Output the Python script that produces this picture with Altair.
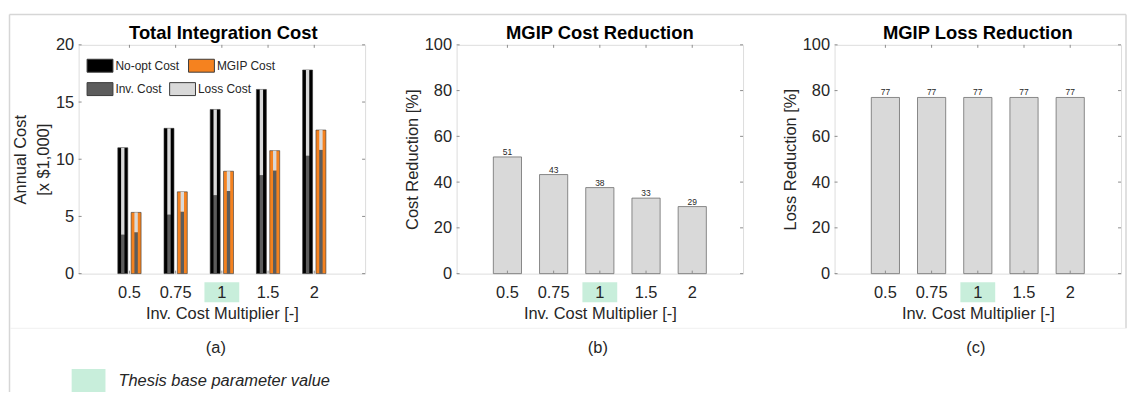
import altair as alt
import pandas as pd

# ---------------- data ----------------
multipliers = ["0.5", "0.75", "1", "1.5", "2"]
base_multiplier = "1"
series_names = ["No-opt Cost", "MGIP Cost"]
component_names = ["Inv. Cost", "Loss Cost"]
noopt_total = [11.0, 12.7, 14.35, 16.1, 17.8]
noopt_inv = [3.4, 5.15, 6.85, 8.6, 10.3]
mgip_total = [5.35, 7.15, 8.95, 10.75, 12.55]
mgip_inv = [3.62, 5.42, 7.22, 9.02, 10.82]
cost_reduction = [51.0, 43.3, 37.6, 33.0, 29.3]
loss_reduction = [77.0, 77.0, 77.0, 77.0, 77.0]
cost_ticks = [0, 5, 10, 15, 20]
pct_ticks = [0, 20, 40, 60, 80, 100]
panel_labels = ["(a)", "(b)", "(c)"]
titles = ["Total Integration Cost", "MGIP Cost Reduction", "MGIP Loss Reduction"]
legend_note = "Thesis base parameter value"

# ---------------- style ----------------
W, H = 288, 230
FONT = "Liberation Sans"
FS = 16.5
TXT = "#262626"
TICK = "#8c8c8c"
HL = "#c8eedb"
ORANGE = "#f5821f"
FRAME = "#d6d6d6"

x_scale = alt.Scale(domain=multipliers, paddingInner=0.39, paddingOuter=0.795)
x_axis = alt.Axis(title="Inv. Cost Multiplier [-]", labelAngle=0, ticks=False, tickSize=0,
                  domain=False, grid=False, labelPadding=11, titlePadding=5,
                  labelFontSize=FS, titleFontSize=FS, titleFontWeight="normal",
                  labelColor=TXT, titleColor=TXT, labelFont=FONT, titleFont=FONT, zindex=1)
X = alt.X("mult:N", scale=x_scale, axis=x_axis)


def y_axis(ticks, title):
    return alt.Axis(values=ticks, title=title, ticks=False, tickSize=0, domain=False, grid=False,
                    labelPadding=5, titlePadding=4, titleLineHeight=23,
                    labelFontSize=FS, titleFontSize=FS, titleFontWeight="normal",
                    labelColor=TXT, titleColor=TXT, labelFont=FONT, titleFont=FONT)


one = pd.DataFrame({"k": [0]})
mult_df = pd.DataFrame({"mult": multipliers})
base_df = pd.DataFrame({"mult": [base_multiplier]})


def common_layers(ticks, y_scale, yax, label, label_x, title, title_x):
    tick_df = pd.DataFrame({"t": ticks})
    y_t = alt.Y("t:Q", scale=y_scale, axis=yax)
    hl = alt.Chart(base_df).mark_bar(width=35, fill=HL).encode(
        x=X, y=alt.value(238.7), y2=alt.value(258.7))
    xt_top = alt.Chart(mult_df).mark_rule(color=TICK).encode(x=X, y=alt.value(0), y2=alt.value(3))
    xt_bot = alt.Chart(mult_df).mark_rule(color=TICK).encode(x=X, y=alt.value(H), y2=alt.value(H - 3))
    yt_l = alt.Chart(tick_df).mark_rule(color=TICK).encode(y=y_t, x=alt.value(0), x2=alt.value(3))
    yt_r = alt.Chart(tick_df).mark_rule(color=TICK).encode(y=y_t, x=alt.value(W - 3), x2=alt.value(W))
    sub = alt.Chart(one).mark_text(fontSize=FS, font=FONT, color=TXT, baseline="middle", align="center").encode(
        x=alt.value(label_x), y=alt.value(305), text=alt.value(label))
    ttl = alt.Chart(one).mark_text(fontSize=18.5, font=FONT, fontWeight="bold", color="#000000",
                                   baseline="alphabetic", align="center").encode(
        x=alt.value(title_x), y=alt.value(-6), text=alt.value(title))
    return hl, [xt_top, xt_bot, yt_l, yt_r, sub, ttl]


# ---------------- panel (a) ----------------
rows_outer = []
rows_inner = []
for i, m in enumerate(multipliers):
    for s, tot, inv in ((series_names[0], noopt_total[i], noopt_inv[i]),
                        (series_names[1], mgip_total[i], mgip_inv[i])):
        rows_outer.append({"mult": m, "series": s, "total": tot})
        rows_inner.append({"mult": m, "series": s, "component": component_names[0], "value": inv, "ord": 0})
        rows_inner.append({"mult": m, "series": s, "component": component_names[1], "value": tot - inv, "ord": 1})
outer_df = pd.DataFrame(rows_outer)
inner_df = pd.DataFrame(rows_inner)

ys_a = alt.Scale(domain=[0, 20], nice=False)
ya_axis = y_axis(cost_ticks, ["Annual Cost", "[x $1,000]"])
rect_path = "M-1,-0.5L1,-0.5L1,0.5L-1,0.5Z"

color_enc = alt.Color("series:N", scale=alt.Scale(domain=series_names, range=["#000000", ORANGE]),
                      legend=alt.Legend(title=None, orient="none", legendX=8, legendY=7.5,
                                        direction="horizontal", symbolType=rect_path, symbolSize=676,
                                        symbolStrokeColor="#3a3a3a", symbolStrokeWidth=1,
                                        symbolOpacity=1, labelFontSize=12, labelFont=FONT,
                                        labelColor=TXT, labelOffset=2, columnPadding=6, padding=0))
fill_enc = alt.Fill("component:N", scale=alt.Scale(domain=component_names, range=["#5c5c5c", "#d9d9d9"]),
                    legend=alt.Legend(title=None, orient="none", legendX=8, legendY=31,
                                      direction="horizontal", symbolType=rect_path, symbolSize=676,
                                      symbolStrokeColor="#3a3a3a", symbolStrokeWidth=1,
                                      symbolOpacity=1, labelFontSize=12, labelFont=FONT,
                                      labelColor=TXT, labelOffset=2, columnPadding=5, padding=0))

outer_layers = []
inner_layers = []
for s, off in ((series_names[0], -6.7), (series_names[1], 6.7)):
    outer_layers.append(
        alt.Chart(outer_df).transform_filter(alt.datum.series == s)
        .mark_bar(width=10, xOffset=off, stroke="#333333", strokeWidth=0.6, opacity=1)
        .encode(x=X, y=alt.Y("total:Q", scale=ys_a, axis=ya_axis), color=color_enc))
    inner_layers.append(
        alt.Chart(inner_df).transform_filter(alt.datum.series == s)
        .mark_bar(width=3.4, xOffset=off, opacity=1)
        .encode(x=X, y=alt.Y("value:Q", scale=ys_a, stack="zero", axis=ya_axis),
                fill=fill_enc, order=alt.Order("ord:Q")))

hl_a, deco_a = common_layers(cost_ticks, ys_a, ya_axis, panel_labels[0], 138, titles[0], 145.5)

# figure frame and footnote legend (drawn in panel (a)'s coordinates)
frame = [
    alt.Chart(one).mark_rule(color=FRAME, strokeWidth=1.5).encode(
        x=alt.value(-69.5), x2=alt.value(1053), y=alt.value(-30.5)),
    alt.Chart(one).mark_rule(color=FRAME, strokeWidth=1.5).encode(
        x=alt.value(-69.5), y=alt.value(-30.5), y2=alt.value(349)),
    alt.Chart(one).mark_rule(color=FRAME, strokeWidth=1.5).encode(
        x=alt.value(1053), y=alt.value(-30.5), y2=alt.value(285)),
    alt.Chart(one).mark_rule(color="#f0f0f0", strokeWidth=1).encode(
        x=alt.value(-69), x2=alt.value(1053), y=alt.value(285)),
    alt.Chart(one).mark_rect(fill=HL).encode(
        x=alt.value(-7), x2=alt.value(27), y=alt.value(326), y2=alt.value(349)),
    alt.Chart(one).mark_text(fontSize=FS, font=FONT, fontStyle="italic", color=TXT,
                             align="left", baseline="middle").encode(
        x=alt.value(40), y=alt.value(338), text=alt.value(legend_note)),
]

panel_a = alt.layer(hl_a, *outer_layers, *inner_layers, *deco_a, *frame).properties(width=W, height=H)


# ---------------- panels (b) and (c) ----------------
def reduction_panel(values, ytitle, title, label, label_x):
    df = pd.DataFrame({"mult": multipliers, "v": values})
    ys = alt.Scale(domain=[0, 100], nice=False)
    yax = y_axis(pct_ticks, ytitle)
    hl, deco = common_layers(pct_ticks, ys, yax, label, label_x, title, W / 2)
    bars = alt.Chart(df).mark_bar(fill="#d9d9d9", stroke="#6e6e6e", strokeWidth=0.8).encode(
        x=X, y=alt.Y("v:Q", scale=ys, axis=yax))
    txt = alt.Chart(df).mark_text(baseline="alphabetic", dy=-2, fontSize=8.5, font=FONT, color=TXT).encode(
        x=X, y=alt.Y("v:Q", scale=ys, axis=yax), text=alt.Text("v:Q", format=".0f"))
    return alt.layer(hl, bars, txt, *deco).properties(width=W, height=H)


panel_b = reduction_panel(cost_reduction, "Cost Reduction [%]", titles[1], panel_labels[1], 142)
panel_c = reduction_panel(loss_reduction, "Loss Reduction [%]", titles[2], panel_labels[2], 142)

chart = alt.hconcat(panel_a, panel_b, panel_c, spacing=92, bounds="flush").resolve_scale(
    x="independent", y="independent", color="independent", fill="independent"
).properties(
    padding={"left": 0, "top": 4, "right": 0, "bottom": 0}
).configure_view(
    stroke="#a6a6a6", strokeWidth=1, fill="white"
).configure(background="white", font=FONT)

chart.save("out.html", embed_options={"renderer": "svg", "actions": False})
